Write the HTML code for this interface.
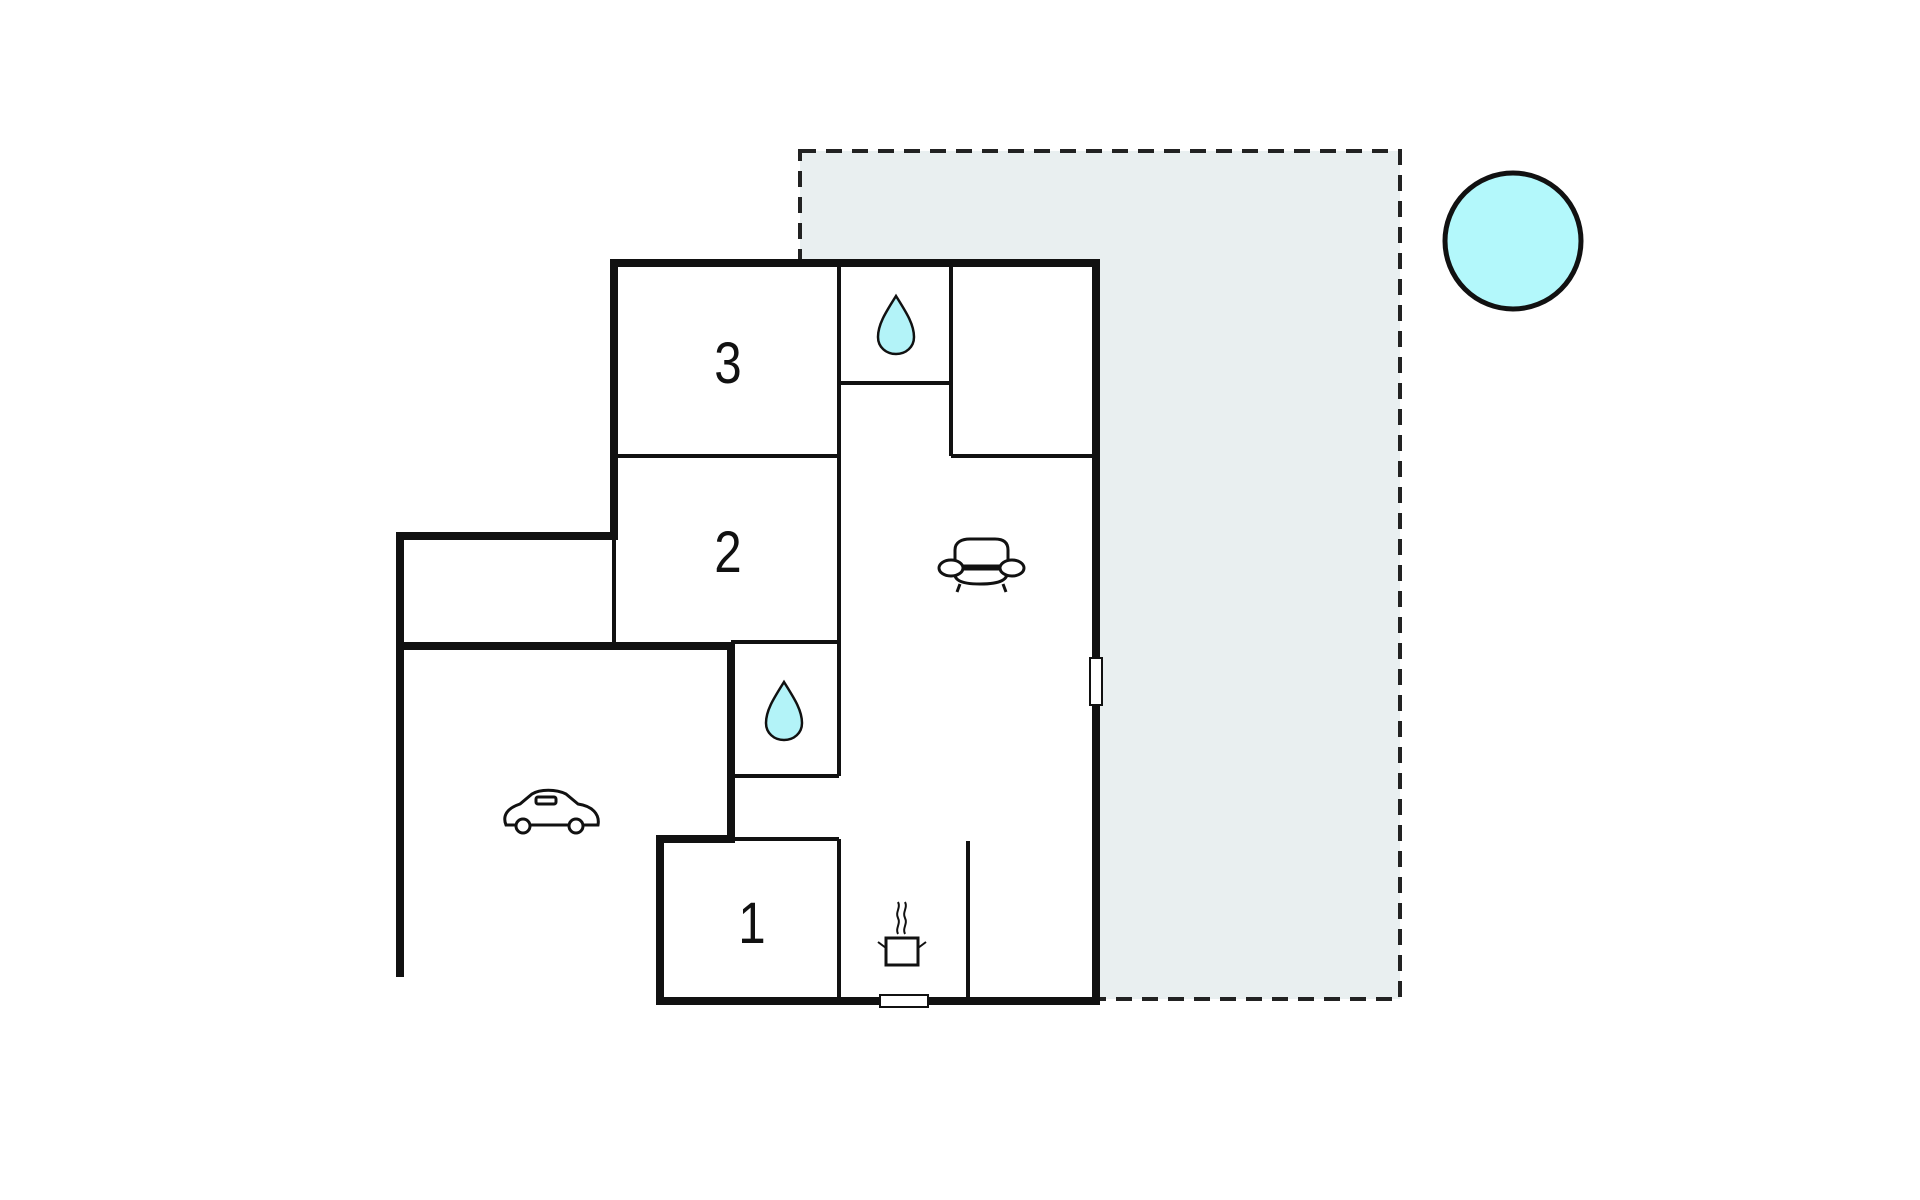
<!DOCTYPE html>
<html><head><meta charset="utf-8"><style>html,body{margin:0;padding:0;background:#fff}svg{display:block}</style></head>
<body>
<svg width="1920" height="1200" viewBox="0 0 1920 1200" xmlns="http://www.w3.org/2000/svg">
<rect x="800" y="151" width="600" height="848" fill="#e9eff0" stroke="#222" stroke-width="4" stroke-dasharray="16,10"/>
<rect x="614" y="263" width="482" height="738" fill="#fff"/>
<rect x="400" y="536" width="331" height="441" fill="#fff"/>
<circle cx="1513" cy="241" r="68" fill="#b3f8fb" stroke="#111" stroke-width="5"/>
<g stroke="#111" stroke-width="4" fill="none">
<line x1="614" y1="456" x2="839" y2="456"/>
<line x1="839" y1="263" x2="839" y2="776"/>
<line x1="839" y1="839" x2="839" y2="1001"/>
<line x1="951" y1="263" x2="951" y2="456"/>
<line x1="839" y1="383" x2="951" y2="383"/>
<line x1="951" y1="456" x2="1096" y2="456"/>
<line x1="614" y1="536" x2="614" y2="646"/>
<line x1="731" y1="642" x2="839" y2="642"/>
<line x1="731" y1="776" x2="839" y2="776"/>
<line x1="660" y1="839" x2="839" y2="839"/>
<line x1="968" y1="841" x2="968" y2="1001"/>
</g>
<g stroke="#111" stroke-width="8" fill="none" stroke-linecap="square">
<polyline points="614,536 614,263 1096,263 1096,1001 660,1001 660,839 731,839 731,646 400,646"/>
<polyline points="614,536 400,536 400,977" stroke-linecap="butt"/>
</g>
<rect x="1090" y="658" width="12" height="47" fill="#fff" stroke="#111" stroke-width="2"/>
<rect x="880" y="995" width="48" height="12" fill="#fff" stroke="#111" stroke-width="2"/>
<g font-family="Liberation Sans, sans-serif" font-size="58" fill="#111" text-anchor="middle">
<text x="728" y="383" transform="translate(728 0) scale(0.85 1) translate(-728 0)">3</text>
<text x="728" y="572" transform="translate(728 0) scale(0.85 1) translate(-728 0)">2</text>
<text x="752" y="943" transform="translate(752 0) scale(0.85 1) translate(-752 0)">1</text>
</g>
<g fill="#b3f3f8" stroke="#111" stroke-width="2.5">
<path d="M896,296 C886,312 878,324 878,337 C878,347 886,354 896,354 C906,354 914,347 914,337 C914,324 906,312 896,296 Z"/>
<path d="M784,682 C774,698 766,710 766,723 C766,733 774,740 784,740 C794,740 802,733 802,723 C802,710 794,698 784,682 Z"/>
</g>
<g stroke="#111" stroke-width="3" fill="#fff">
<path d="M955,566 L955,550 C955,542 962,539 970,539 L995,539 C1003,539 1008,542 1008,550 L1008,566 Z"/>
<path d="M955,568 C952,580 960,584 980,584 C1000,584 1010,580 1007,568 Z"/>
<line x1="956" y1="569" x2="1006" y2="569"/>
<ellipse cx="951" cy="568" rx="12" ry="8"/>
<ellipse cx="1012" cy="568" rx="12" ry="8"/>
<line x1="960" y1="584" x2="957" y2="592"/>
<line x1="1003" y1="584" x2="1006" y2="592"/>
</g>
<g stroke="#111" stroke-width="3" fill="#fff">
<path d="M506,825 C502,815 508,808 520,804 L532,794 C540,789 556,789 566,794 L578,804 C592,806 600,814 598,825 Z"/>
<rect x="536" y="797" width="20" height="7" rx="2"/>
<circle cx="523" cy="826" r="7"/>
<circle cx="576" cy="826" r="7"/>
</g>
<g stroke="#111" stroke-width="2" fill="none">
<rect x="886" y="938" width="32" height="27" fill="#fff" stroke-width="3"/>
<line x1="878" y1="942" x2="886" y2="948"/>
<line x1="926" y1="942" x2="918" y2="948"/>
<path d="M898,934 C895,928 901,924 898,918 C895,912 901,908 898,902"/>
<path d="M905,934 C902,928 908,924 905,918 C902,912 908,908 905,902"/>
</g>
</svg>
</body></html>
